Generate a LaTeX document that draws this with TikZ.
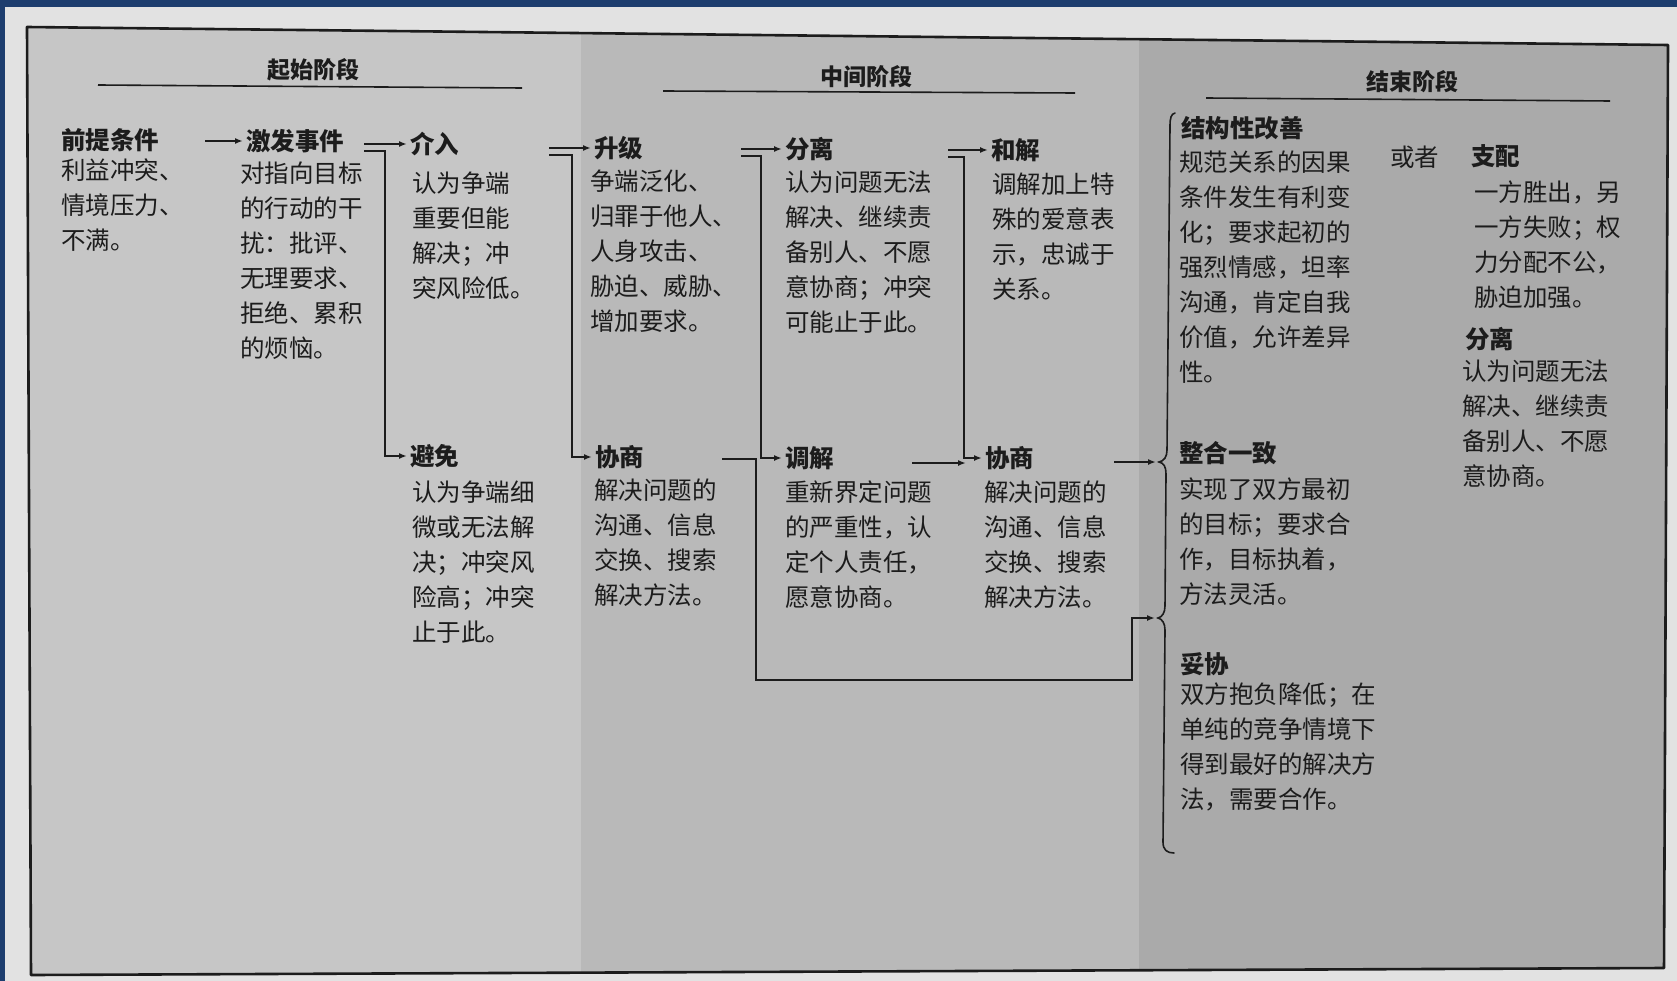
\documentclass[tikz,border=0pt]{standalone}
\usepackage{fontspec}
\newfontfamily\cjk{Noto Sans CJK SC}
\usetikzlibrary{arrows.meta,calc}
\definecolor{ink}{HTML}{1C1C1C}
\definecolor{frameblue}{HTML}{1D3D6E}
\definecolor{paper}{HTML}{E2E2E2}
\definecolor{bandA}{HTML}{C6C6C6}
\definecolor{bandB}{HTML}{B9B9B9}
\definecolor{bandC}{HTML}{AAAAAA}
\begin{document}
\begin{tikzpicture}[x=1pt,y=1pt,
  ttl/.style={font=\cjk\bfseries\fontsize{24.5}{35}\selectfont, anchor=west, inner sep=0pt, text=ink},
  txt/.style={font=\cjk\fontsize{24.5}{35}\selectfont, anchor=north west, align=left, inner sep=0pt, text=ink},
  hdr/.style={font=\cjk\bfseries\fontsize{23}{28}\selectfont, inner sep=0pt, text=ink},
  ln/.style={line width=1.6pt, draw=ink},
  arr/.style={ln, -{Latex[length=8pt,width=6pt]}, shorten >=3pt},
]
% background
\fill[frameblue] (0,0) rectangle (1677,-981);
\fill[paper] (5,-7) rectangle (1677,-981);
\useasboundingbox (0,0) rectangle (1677,-981);
% box with bands
\begin{scope}
\clip (27,-27) -- (1668,-45) -- (1664,-968) -- (31,-975) -- cycle;
\fill[bandA] (0,0) rectangle (581,-981);
\fill[bandB] (581,0) rectangle (1139,-981);
\fill[bandC] (1139,0) rectangle (1677,-981);
\end{scope}
\draw[ink, line width=2.6pt, line join=round] (27,-27) -- (1668,-45) -- (1664,-968) -- (31,-975) -- cycle;

% headers
\node[hdr] (h1) at (313,-70) {起始阶段};
\node[hdr] (h2) at (866,-77) {中间阶段};
\node[hdr] (h3) at (1412,-82) {结束阶段};
\draw[ln] (98,-85) -- (522,-88);
\draw[ln] (663,-91) -- (1075,-93);
\draw[ln] (1206,-98) -- (1610,-101);

% titles
\node[ttl] (qiantiT)  at (61,-140)  {前提条件};
\node[ttl] (jifaT)    at (246,-141) {激发事件};
\node[ttl] (jieruT)   at (410,-144) {介入};
\node[ttl] (bimianT)  at (410,-456) {避免};
\node[ttl] (shengjiT) at (594,-148) {升级};
\node[ttl] (xs1T)     at (595,-457) {协商};
\node[ttl] (fenliT)   at (785,-149) {分离};
\node[ttl] (tiaojieT) at (785,-458) {调解};
\node[ttl] (hejieT)   at (991,-150) {和解};
\node[ttl] (xs2T)     at (985,-458) {协商};
\node[ttl] (jiegouT)  at (1181,-128) {结构性改善};
\node[ttl] (zhipeiT)  at (1471,-156) {支配};
\node[ttl] (fenli2T)  at (1465,-339) {分离};
\node[ttl] (zhengheT) at (1179,-453) {整合一致};
\node[ttl] (tuoxieT)  at (1180,-664) {妥协};
\node[txt, anchor=west] (huozhe) at (1390,-157) {或者};

% bodies
\node[txt] (qiantiB)  at (61,-159)  {利益冲突、\\情境压力、\\不满。};
\node[txt] (jifaB)    at (240,-162) {对指向目标\\的行动的干\\扰：批评、\\无理要求、\\拒绝、累积\\的烦恼。};
\node[txt] (jieruB)   at (412,-172) {认为争端\\重要但能\\解决；冲\\突风险低。};
\node[txt] (bimianB)  at (412,-481) {认为争端细\\微或无法解\\决；冲突风\\险高；冲突\\止于此。};
\node[txt] (shengjiB) at (590,-170) {争端泛化、\\归罪于他人、\\人身攻击、\\胁迫、威胁、\\增加要求。};
\node[txt] (xs1B)     at (594,-479) {解决问题的\\沟通、信息\\交换、搜索\\解决方法。};
\node[txt] (fenliB)   at (785,-171) {认为问题无法\\解决、继续责\\备别人、不愿\\意协商；冲突\\可能止于此。};
\node[txt] (tiaojieB) at (785,-481) {重新界定问题\\的严重性，认\\定个人责任，\\愿意协商。};
\node[txt] (hejieB)   at (992,-173) {调解加上特\\殊的爱意表\\示，忠诚于\\关系。};
\node[txt] (xs2B)     at (984,-481) {解决问题的\\沟通、信息\\交换、搜索\\解决方法。};
\node[txt] (jiegouB)  at (1179,-151) {规范关系的因果\\条件发生有利变\\化；要求起初的\\强烈情感，坦率\\沟通，肯定自我\\价值，允许差异\\性。};
\node[txt] (zhipeiB)  at (1474,-181) {一方胜出，另\\一方失败；权\\力分配不公，\\胁迫加强。};
\node[txt] (fenli2B)  at (1462,-360) {认为问题无法\\解决、继续责\\备别人、不愿\\意协商。};
\node[txt] (zhengheB) at (1179,-478) {实现了双方最初\\的目标；要求合\\作，目标执着，\\方法灵活。};
\node[txt] (tuoxieB)  at (1180,-683) {双方抱负降低；在\\单纯的竞争情境下\\得到最好的解决方\\法，需要合作。};

% connector free ends
\coordinate (c1)  at (205,-141);
\coordinate (c2a) at (364,-144);
\coordinate (c2b) at (364,-151);
\coordinate (c3a) at (549,-148);
\coordinate (c3b) at (549,-155);
\coordinate (c4a) at (741,-149);
\coordinate (c4b) at (741,-156);
\coordinate (c5a) at (948,-150);
\coordinate (c5b) at (948,-157);
\coordinate (c6a) at (912,-463);
\coordinate (c6b) at (966,-463);
\coordinate (c7)  at (722,-459);
\coordinate (c8)  at (1114,-462);
\coordinate (cusp1) at (1159,-462);
\coordinate (cusp2) at (1158,-618);

% connectors
\draw[arr] (c1) -- (jifaT.west);
\draw[arr] (c2a) -- (jieruT.west);
\draw[arr] (c2b) -- ++(21,0) |- (bimianT.west);
\draw[arr] (c3a) -- (shengjiT.west);
\draw[arr] (c3b) -- ++(23,0) |- (xs1T.west);
\draw[arr] (c4a) -- (fenliT.west);
\draw[arr] (c4b) -- ++(20,0) |- (tiaojieT.west);
\draw[arr] (c5a) -- (hejieT.west);
\draw[arr] (c5b) -- ++(16,0) |- (xs2T.west);
\draw[arr, shorten >=0pt] (c6a) -- (c6b);
\draw[arr] (c7) -| (756,-680) -| (1132,-618) -- (cusp2);
\draw[arr] (c8) -- (cusp1);

% brace
\draw[ln, line cap=round] (1175,-113) .. controls (1171,-114) and (1170,-118) .. (1170,-126)
  -- (1167,-450) .. controls (1167,-457) and (1164,-461) .. (1159,-462)
  .. controls (1164,-463) and (1166,-467) .. (1166,-474)
  -- (1165,-606) .. controls (1165,-613) and (1162,-617) .. (1158,-618)
  .. controls (1162,-619) and (1165,-623) .. (1165,-630)
  -- (1163,-842) .. controls (1163,-850) and (1167,-853) .. (1174,-853);
\end{tikzpicture}
\end{document}
